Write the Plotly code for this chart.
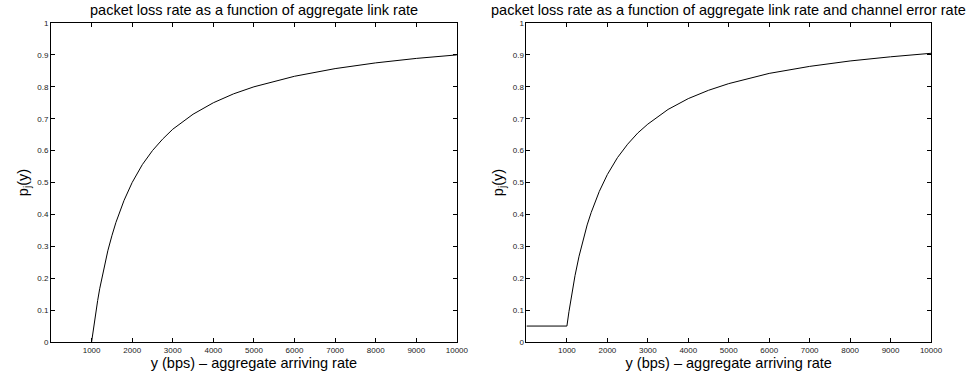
import plotly.graph_objects as go
from plotly.subplots import make_subplots

# Left panel: packet loss rate vs aggregate link rate
x_left = [1000, 1050, 1100, 1150, 1200, 1300, 1400, 1500, 1600, 1800, 2000, 2250, 2500,
          2750, 3000, 3500, 4000, 4500, 5000, 6000, 7000, 8000, 9000, 10000]
p_left = [0.0, 0.048, 0.091, 0.130, 0.167, 0.231, 0.286, 0.333, 0.375, 0.444, 0.5, 0.556,
          0.6, 0.636, 0.667, 0.714, 0.75, 0.778, 0.8, 0.833, 0.857, 0.875, 0.889, 0.9]

# Right panel: packet loss rate vs aggregate link rate and channel error rate
x_right = [0, 1000, 1050, 1100, 1150, 1200, 1300, 1400, 1500, 1600, 1800, 2000, 2250, 2500,
           2750, 3000, 3500, 4000, 4500, 5000, 6000, 7000, 8000, 9000, 10000]
p_right = [0.05, 0.05, 0.095, 0.136, 0.174, 0.208, 0.269, 0.321, 0.367, 0.406, 0.472, 0.525,
           0.578, 0.62, 0.655, 0.683, 0.729, 0.763, 0.789, 0.81, 0.842, 0.864, 0.881, 0.894,
           0.905]

x_ticks = [1000, 2000, 3000, 4000, 5000, 6000, 7000, 8000, 9000, 10000]
x_tick_text = ["1000", "2000", "3000", "4000", "5000", "6000", "7000", "8000", "9000", "10000"]
y_ticks = [0, 0.1, 0.2, 0.3, 0.4, 0.5, 0.6, 0.7, 0.8, 0.9, 1]
y_tick_text = ["0", "0.1", "0.2", "0.3", "0.4", "0.5", "0.6", "0.7", "0.8", "0.9", "1"]

titles = ["packet loss rate as a function of aggregate link rate",
          "packet loss rate as a function of aggregate link rate and channel error rate"]
x_title = "y (bps) \u2013 aggregate arriving rate"
y_title = "p<sub>j</sub>(y)"

FONT = "Liberation Sans, Arial, sans-serif"

fig = make_subplots(rows=1, cols=2)
fig.add_trace(go.Scatter(x=x_left, y=p_left, mode="lines",
                         line=dict(color="black", width=1), showlegend=False), 1, 1)
fig.add_trace(go.Scatter(x=x_right, y=p_right, mode="lines",
                         line=dict(color="black", width=1), showlegend=False), 1, 2)

for i in (1, 2):
    fig.update_xaxes(range=[0, 10000], tickvals=x_ticks, ticktext=x_tick_text,
                     ticks="inside", ticklen=4,
                     tickcolor="black", showline=True, linecolor="black", linewidth=1,
                     mirror="ticks", showgrid=False, zeroline=False, automargin=False,
                     tickfont=dict(size=8, color="#222"),
                     title=dict(text=x_title, font=dict(size=14.5, color="black"), standoff=1),
                     row=1, col=i)
    fig.update_yaxes(range=[0, 1], tickvals=y_ticks, ticktext=y_tick_text, ticks="inside",
                     ticklen=4, tickcolor="black", showline=True, linecolor="black",
                     linewidth=1, mirror="ticks", showgrid=False, zeroline=False,
                     automargin=False,
                     tickfont=dict(size=8, color="#222"),
                     title=dict(text=y_title, font=dict(size=14.5, color="black"), standoff=5),
                     row=1, col=i)

fig.layout.xaxis.domain = [0, 0.4612]
fig.layout.xaxis2.domain = [0.5403, 1]

fig.add_annotation(text=titles[0], x=0.2306, xref="paper", xanchor="center",
                   y=1, yref="paper", yanchor="bottom", yshift=3, showarrow=False,
                   font=dict(size=14.5, color="black"))
fig.add_annotation(text=titles[1], x=0.7701, xref="paper", xanchor="center",
                   y=1, yref="paper", yanchor="bottom", yshift=3, showarrow=False,
                   font=dict(size=14.5, color="black"))

fig.update_layout(width=968, height=377, margin=dict(l=51, r=37, t=23, b=35),
                  plot_bgcolor="white", paper_bgcolor="white",
                  font=dict(family=FONT, color="black"))

fig.write_html("out.html", config={"displayModeBar": False},
               post_script="document.body.style.margin='0px';document.body.style.overflow='hidden';")
